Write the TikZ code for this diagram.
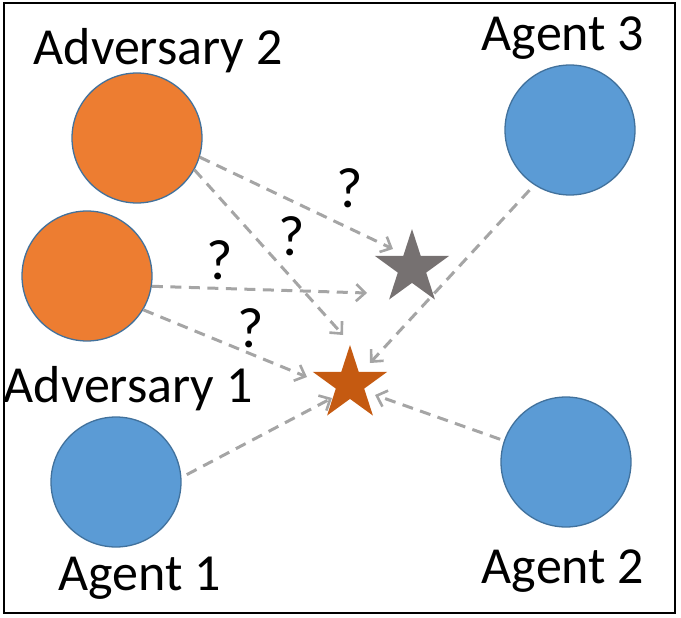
\documentclass[tikz,border=0pt]{standalone}
\usepackage{fontspec}
\setmainfont{Carlito}
\usetikzlibrary{shapes.geometric,arrows.meta}
\definecolor{advorange}{HTML}{ED7D31}
\definecolor{agblue}{HTML}{5B9BD5}
\definecolor{edgeblue}{HTML}{41719C}
\definecolor{stargray}{HTML}{767171}
\definecolor{starorange}{HTML}{C55A11}
\definecolor{arrowgray}{HTML}{A5A5A5}
\begin{document}
\begin{tikzpicture}[x=1pt,y=-1pt,
  agentc/.style={circle,draw=edgeblue,line width=1.3pt,minimum size=130pt,inner sep=0pt},
  adv/.style={agentc,fill=advorange},
  agt/.style={agentc,fill=agblue},
  goal/.style={star,star points=5,star point ratio=2.618,minimum size=78pt,inner sep=0pt},
  lbl/.style={anchor=base,font=\fontsize{52}{60}\selectfont,inner sep=0pt},
  qm/.style={font=\fontsize{57}{64}\selectfont,inner sep=0pt},
  dasharrow/.style={draw=arrowgray,line width=3pt,dash pattern=on 11pt off 7.5pt,
    -{Straight Barb[length=9pt,width=17pt,line width=2.6pt]}}]
\useasboundingbox (0,0) rectangle (681,618);
\draw[line width=2pt] (4,3) rectangle (675,613);

\node[adv] (adv2) at (137,138) {};
\node[adv] (adv1) at (87,276) {};
\node[agt] (ag1) at (116,482) {};
\node[agt] (ag3) at (570,130) {};
\node[agt] (ag2) at (566,462) {};

\node[goal,fill=stargray] (sgray) at (412,268) {};
\node[goal,fill=starorange] (sorange) at (350,384) {};

\node[lbl] (ladv2) at (158,65) {Adversary 2};
\node[lbl] (lag3) at (563,51) {Agent 3};
\node[lbl] (ladv1) at (128,402) {Adversary 1};
\node[lbl] (lag1) at (140,590) {Agent 1};
\node[lbl] (lag2) at (563,583) {Agent 2};

\coordinate (t1) at (393,249);
\coordinate (t2) at (343,335);
\coordinate (t3) at (367,293);
\coordinate (t4) at (307,377);
\coordinate (t5) at (332,398);
\coordinate (t6) at (370,363);
\coordinate (t7) at (375,395);

\draw[dasharrow] (adv2.-17) -- (t1);
\draw[dasharrow] (adv2.-29.5) -- (t2);
\draw[dasharrow] (adv1.-9.5) -- (t3);
\draw[dasharrow] (adv1.-31) -- (t4);
\draw[dasharrow,shorten <=6pt] (ag1.4) -- (t5);
\draw[dasharrow,shorten <=7pt] (ag3.-123.3) -- (t6);
\draw[dasharrow,shorten <=4pt] (ag2.161.6) -- (t7);

\node[qm] (q1) at (350,188) {?};
\node[qm] (q2) at (292,236) {?};
\node[qm] (q3) at (220,260) {?};
\node[qm] (q4) at (251,328) {?};
\end{tikzpicture}
\end{document}
